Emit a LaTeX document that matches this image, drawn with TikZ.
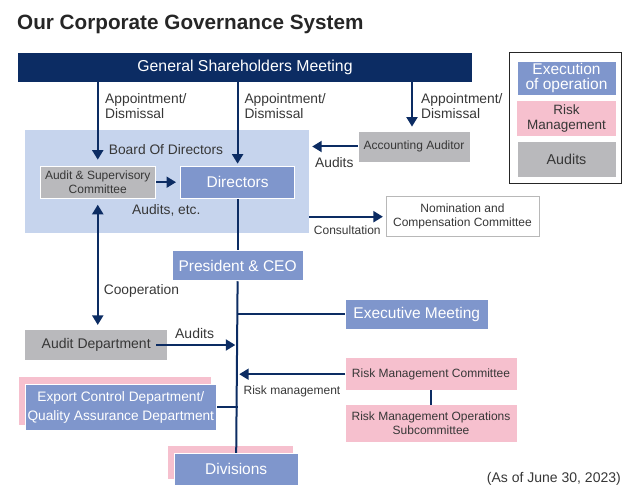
\documentclass[tikz,border=0pt]{standalone}
\usepackage{fontspec}
\setmainfont{Liberation Sans}
\usetikzlibrary{arrows.meta, positioning, shadows}
\definecolor{navy}{RGB}{12, 44, 99}
\definecolor{opblue}{RGB}{127, 150, 204}
\definecolor{boardblue}{RGB}{198, 212, 237}
\definecolor{auditgray}{RGB}{185, 185, 188}
\definecolor{riskpink}{RGB}{246, 192, 206}
\definecolor{textgray}{RGB}{55, 55, 55}
\tikzset{
    opbox/.style={
        rectangle,
        draw=white,
        line width=0.8pt,
        fill=opblue,
        text=white,
        align=center,
        inner sep=0pt,
        font=\fontsize{15.5}{16}\selectfont
    },
    auditbox/.style={
        rectangle,
        draw=white,
        line width=0.8pt,
        fill=auditgray,
        text=textgray,
        align=center,
        inner sep=0pt,
        font=\fontsize{12}{14.5}\selectfont
    },
    riskbox/.style={
        rectangle,
        fill=riskpink,
        text=textgray,
        align=center,
        inner sep=0pt,
        font=\fontsize{12}{14.5}\selectfont
    },
    pinkback/.style={
        copy shadow={shadow xshift=-6pt, shadow yshift=6.5pt, fill=riskpink, draw=riskpink}
    },
    lbl/.style={
        text=textgray,
        align=left,
        inner sep=0pt,
        font=\fontsize{13.8}{15.3}\selectfont
    },
    link/.style={
        draw=navy,
        line width=2pt
    },
    arr/.style={
        link,
        -{Triangle[length=9.5pt, width=11pt]}
    },
    twoarr/.style={
        link,
        {Triangle[length=9.5pt, width=11pt]}-{Triangle[length=9.5pt, width=11pt]}
    }
}

\begin{document}
\begin{tikzpicture}[x=1pt, y=1pt]
    \useasboundingbox (0,0) rectangle (623,-489);

    \node[anchor=base west, inner sep=0pt, text=black!85, font=\fontsize{20.7}{24}\selectfont\bfseries] (title) at (17,-30) {Our Corporate Governance System};

    \node[rectangle, fill=navy, text=white, minimum width=454pt, minimum height=29pt, font=\fontsize{15.8}{17}\selectfont] (gsm) at (245,-67.5) {General Shareholders Meeting};

    \node[draw=black!85, line width=1pt, minimum width=112pt, minimum height=130pt] (legend) at (565.5,-118) {};
    \node[opbox, minimum width=99pt, minimum height=34pt, font=\fontsize{15.5}{15.5}\selectfont] (keyexec) at (566.5,-78) {Execution\\of operation};
    \node[riskbox, minimum width=99pt, minimum height=35.5pt, below=5pt of keyexec, font=\fontsize{13.5}{14.5}\selectfont] (keyrisk) {Risk\\Management};
    \node[auditbox, minimum width=99pt, minimum height=36pt, below=4.5pt of keyrisk, font=\fontsize{14.3}{15}\selectfont] (keyaudit) {Audits};

    \node[rectangle, fill=boardblue, minimum width=284pt, minimum height=102.7pt, inner sep=0pt] (board) at (167,-181.3) {};
    \node[lbl] (boardname) at (166,-150) {Board Of Directors};
    \node[auditbox, minimum width=114.5pt, minimum height=32.3pt] (asc) at (97.75,-182.2) {Audit \& Supervisory\\Committee};
    \node[opbox, minimum width=114.4pt, minimum height=32.3pt, right=24.6pt of asc] (directors) {Directors};
    \node[lbl] (auditsetc) at (166.3,-210) {Audits, etc.};

    \node[auditbox, minimum width=112pt, minimum height=31pt] (accaud) at (414,-146.5) {Accounting Auditor};
    \node[rectangle, draw=black!28, line width=1pt, fill=white, text=textgray, align=center, inner sep=0pt, minimum width=153pt, minimum height=40pt, font=\fontsize{12}{14}\selectfont] (nomcomp) at (462.5,-216.7) {Nomination and\\Compensation Committee};

    \node[opbox, minimum width=131pt, minimum height=30.7pt, below=51pt of directors] (president) {President \& CEO};
    \node[opbox, minimum width=142.4pt, minimum height=30pt] (execmeet) at (416.8,-314.3) {Executive Meeting};
    \node[auditbox, minimum width=143pt, minimum height=31.4pt, font=\fontsize{14}{15}\selectfont] (auditdept) at (96.2,-345) {Audit Department};

    \node[riskbox, minimum width=171pt, minimum height=31.7pt] (rmc) at (431,-374.2) {Risk Management Committee};
    \node[riskbox, minimum width=171pt, minimum height=37.4pt, below=14.3pt of rmc] (rmos) {Risk Management Operations\\Subcommittee};

    \node[opbox, pinkback, minimum width=191.7pt, minimum height=46.7pt, font=\fontsize{13.7}{18.4}\selectfont] (export) at (120.8,-407.3) {Export Control Department/\\Quality Assurance Department};
    \node[opbox, pinkback, minimum width=124.3pt, minimum height=31.7pt] (divisions) at (236.2,-469.2) {Divisions};

    \node[lbl, anchor=east, font=\fontsize{14}{15}\selectfont] (asof) at (621,-479.3) {(As of June 30, 2023)};

    \draw[arr] (asc.north |- gsm.south) -- ([yshift=6pt]asc.north);
    \draw[arr] (directors.north |- gsm.south) -- ([yshift=2pt]directors.north);
    \draw[arr] ([xshift=-2pt]accaud.north |- gsm.south) -- ([xshift=-2pt, yshift=4pt]accaud.north);
    \node[lbl, anchor=west] (appoint1) at (105,-106.3) {Appointment/\\Dismissal};
    \node[lbl, anchor=west] (appoint2) at (244.3,-106.3) {Appointment/\\Dismissal};
    \node[lbl, anchor=west] (appoint3) at (421,-106.3) {Appointment/\\Dismissal};

    \draw[arr] ([xshift=1pt]asc.east) -- ([xshift=-4pt]directors.west);
    \draw[arr] (accaud.west) -- ([xshift=3pt]board.east |- accaud.west);
    \node[lbl] (auditsaa) at (334.3,-163) {Audits};
    \draw[arr] (board.east |- nomcomp.west) -- ([xshift=-2.6pt]nomcomp.west);
    \node[lbl, font=\fontsize{12}{14}\selectfont] (consult) at (347.3,-230.7) {Consultation};

    \draw[link] (directors.south) -- (president.north);
    \draw[link] (president.south) -- (divisions.north);
    \draw[link] (execmeet.west) -- (execmeet.west -| president.south);
    \draw[link] (export.east) -- (export.east -| president.south);

    \draw[twoarr] ([yshift=-6pt]asc.south) -- ([yshift=4pt]asc.south |- auditdept.north);
    \node[lbl] (coop) at (141.4,-290.7) {Cooperation};

    \draw[arr] ([xshift=-12pt]auditdept.east) -- ([xshift=-2.3pt]auditdept.east -| president.south);
    \node[lbl, font=\fontsize{14}{15}\selectfont] (auditsad) at (194.6,-333) {Audits};

    \draw[arr] (rmc.west) -- ([xshift=1.6pt]rmc.west -| president.south);
    \node[lbl, font=\fontsize{12}{14}\selectfont] (riskmgmt) at (292,-391.7) {Risk management};
    \draw[link] (rmc.south) -- (rmos.north);
\end{tikzpicture}
\end{document}
